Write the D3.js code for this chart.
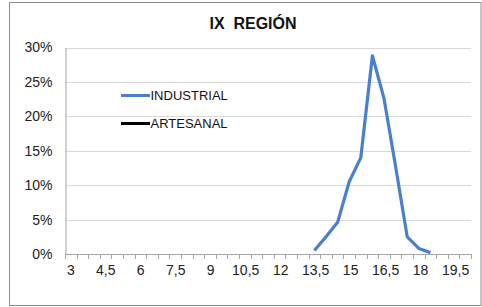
<!DOCTYPE html>
<html>
<head>
<meta charset="utf-8">
<script src="https://cdn.jsdelivr.net/npm/d3@7"></script>
<style>
  html, body { margin: 0; padding: 0; background: #fff; }
  svg { display: block; font-family: "Liberation Sans", Arial, sans-serif; }
</style>
</head>
<body>
<svg id="chart" width="482" height="307"></svg>
<script>
const title = "IX  REGIÓN";
const categories = [3, 3.5, 4, 4.5, 5, 5.5, 6, 6.5, 7, 7.5, 8, 8.5, 9, 9.5, 10, 10.5,
  11, 11.5, 12, 12.5, 13, 13.5, 14, 14.5, 15, 15.5, 16, 16.5, 17, 17.5, 18, 18.5, 19, 19.5, 20];
const industrialCats = [13.5, 14, 14.5, 15, 15.5, 16, 16.5, 17, 17.5, 18, 18.5];
const industrialVals = [0.005, 0.025, 0.046, 0.105, 0.140, 0.288, 0.226, 0.127, 0.025, 0.008, 0.002];
const artesanalCats = [];
const artesanalVals = [];
const xTickLabels = [3, 4.5, 6, 7.5, 9, 10.5, 12, 13.5, 15, 16.5, 18, 19.5];
const yTicks = [0, 0.05, 0.10, 0.15, 0.20, 0.25, 0.30];
const seriesNames = ["INDUSTRIAL", "ARTESANAL"];
const seriesColors = ["#4a7fd0", "#000000"];

const svg = d3.select("#chart");
const m = { left: 65, right: 471, top: 47.5, bottom: 254 };

// outer border
svg.append("rect").attr("x", 9.5).attr("y", 2.5).attr("width", 471.5).attr("height", 303)
  .attr("fill", "#fff").attr("stroke", "#8c8c8c").attr("stroke-width", 1);

const x = d3.scaleBand().domain(categories).range([m.left, m.right]);
const y = d3.scaleLinear().domain([0, 0.30]).range([m.bottom, m.top]);

// gridlines
svg.append("g").selectAll("line").data(yTicks.filter(d => d > 0)).join("line")
  .attr("x1", m.left).attr("x2", m.right)
  .attr("y1", d => Math.round(y(d)) + 0.5).attr("y2", d => Math.round(y(d)) + 0.5)
  .attr("stroke", "#d9d9d9").attr("stroke-width", 1);

// y axis
const yAxis = d3.axisLeft(y).tickValues(yTicks).tickSize(0).tickPadding(13)
  .tickFormat(d => Math.round(d * 100) + "%");
const yg = svg.append("g").attr("transform", `translate(${m.left + 0.5},0)`).call(yAxis);
yg.select(".domain").attr("stroke", "#a6a6a6");
yg.selectAll("text").attr("font-size", 14).attr("fill", "#222").attr("font-family", "Liberation Sans, Arial, sans-serif");

// x axis: ticks between categories
const edges = categories.map(c => x(c)).concat([m.right]);
const xg = svg.append("g");
xg.append("line").attr("x1", m.left).attr("x2", m.right)
  .attr("y1", m.bottom + 0.5).attr("y2", m.bottom + 0.5).attr("stroke", "#a6a6a6");
xg.selectAll("line.tick").data(edges).join("line").attr("class", "tick")
  .attr("x1", d => Math.round(d) + 0.5).attr("x2", d => Math.round(d) + 0.5)
  .attr("y1", m.bottom).attr("y2", m.bottom + 5).attr("stroke", "#a6a6a6");
xg.selectAll("text").data(xTickLabels).join("text")
  .attr("x", d => x(d) + x.bandwidth() / 2 + (d - 3) * 0.12)
  .attr("y", m.bottom + 21)
  .attr("text-anchor", "middle").attr("font-size", 14).attr("fill", "#222")
  .text(d => String(d).replace(".", ","));

// lines
const line = d3.line().x(d => x(d[0]) + x.bandwidth() / 2).y(d => y(d[1]));
svg.append("path").datum(d3.zip(industrialCats, industrialVals))
  .attr("fill", "none").attr("stroke", seriesColors[0]).attr("stroke-width", 3.2)
  .attr("stroke-linejoin", "round").attr("d", line);
svg.append("path").datum(d3.zip(artesanalCats, artesanalVals))
  .attr("fill", "none").attr("stroke", seriesColors[1]).attr("stroke-width", 3.2)
  .attr("d", line);

// legend
const lg = svg.append("g");
seriesNames.forEach((name, i) => {
  const ly = 95.5 + i * 28;
  lg.append("line").attr("x1", 121).attr("x2", 150).attr("y1", ly).attr("y2", ly)
    .attr("stroke", seriesColors[i]).attr("stroke-width", 3);
  lg.append("text").attr("x", 150.5).attr("y", ly + 4.7).attr("font-size", 13)
    .attr("fill", "#111").text(name);
});

// title
svg.append("text").attr("x", 253).attr("y", 28.5).attr("text-anchor", "middle")
  .attr("font-size", 16).attr("font-weight", "bold").attr("fill", "#111")
  .style("white-space", "pre").text(title);
</script>
</body>
</html>
